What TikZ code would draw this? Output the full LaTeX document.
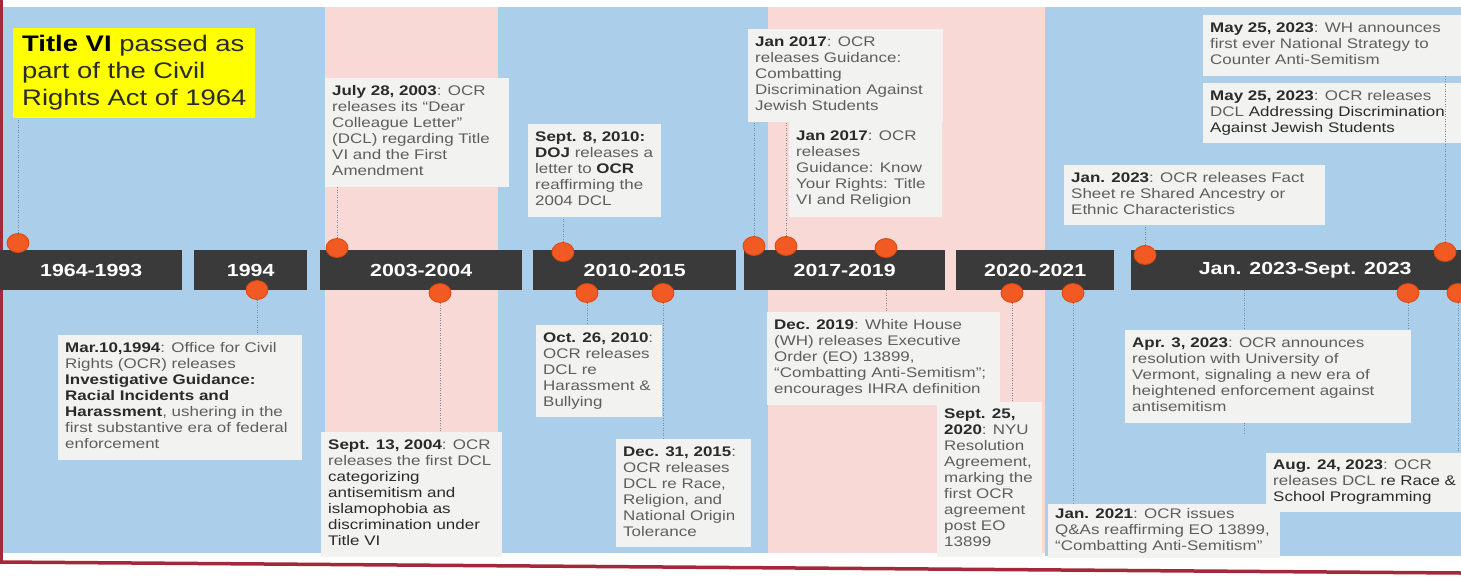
\documentclass[tikz,border=0pt]{standalone}
\usepackage{fontspec}
\setmainfont{Liberation Sans}[FakeStretch=1.22]
\usetikzlibrary{shapes.geometric}

\definecolor{panelblue}{HTML}{ABCFEA}
\definecolor{panelpink}{HTML}{F9D9D6}
\definecolor{boxfill}{HTML}{F2F2F1}
\definecolor{barcol}{HTML}{3A3A3A}
\definecolor{pinorange}{HTML}{F15A22}
\definecolor{pinedge}{HTML}{D9480F}
\definecolor{txtgray}{HTML}{5E5E5E}
\definecolor{txtdark}{HTML}{2A2A2A}
\definecolor{framered}{HTML}{A3283A}
\definecolor{linkgray}{HTML}{7D8792}
\definecolor{titleyellow}{HTML}{FFFF00}

\pgfdeclarelayer{panels}
\pgfdeclarelayer{links}
\pgfsetlayers{panels,links,main}

\newcommand\evfont{\fontsize{13.9pt}{16pt}\selectfont}
\newcommand\evdate[1]{\textbf{\color{txtdark}#1}}
\newcommand\evb[1]{\textbf{\color{txtdark}#1}}
\newcommand\evdk[1]{{\color{txtdark}#1}}
\newcommand\evlines[2]{\makebox[#1][l]{\begin{tabular}{@{}l@{}}#2\end{tabular}}}

\tikzset{
  evt/.style={fill=boxfill, anchor=north west, inner xsep=7pt, inner ysep=0pt,
              text=txtgray, font=\evfont},
  era/.style={fill=barcol, anchor=north west, minimum height=40pt, inner sep=0pt,
              text=white, font=\fontsize{17.5pt}{20pt}\selectfont\bfseries},
  tlpin/.style={ellipse, fill=pinorange, draw=pinedge, line width=0.8pt,
                minimum width=22pt, minimum height=19pt, inner sep=0pt},
  link/.style={draw=linkgray, line width=1pt, dash pattern=on 1pt off 1.5pt}
}

\begin{document}
\begin{tikzpicture}[x=1pt,y=-1pt]
\useasboundingbox (0,0) rectangle (1461,579);

% background bands
\begin{pgfonlayer}{panels}
  \fill[white] (0,0) rectangle (1461,579);
  \fill[panelblue] (3,7) rectangle (325,553);
  \fill[panelpink] (325,7) rectangle (498,553);
  \fill[panelblue] (498,7) rectangle (768,553);
  \fill[panelpink] (768,7) rectangle (1045,553);
  \fill[panelblue] (1045,7) rectangle (1461,556);
  \draw[framered, line width=3.5pt] (1.5,0) -- (1.5,563);
  \draw[framered, line width=3.5pt] (0,562) -- (1461,573);
\end{pgfonlayer}

% title
\node[fill=titleyellow, anchor=north west, inner xsep=9pt, inner ysep=0pt,
      minimum height=90pt, text=txtdark,
      font=\fontsize{22.5pt}{27pt}\selectfont] (ttl) at (13,28)
  {\evlines{224pt}{\textbf{\color{black}Title VI} passed as\\part of the Civil\\Rights Act of 1964}};

% events above the bar
\node[evt, minimum height=109pt] (jul03) at (325,78)
  {\evlines{170pt}{\evdate{July 28, 2003}: OCR\\releases its “Dear\\Colleague Letter”\\(DCL) regarding Title\\VI and the First\\Amendment}};
\node[evt, minimum height=93pt] (sep10) at (528,124)
  {\evlines{119pt}{\evdate{Sept. 8, 2010:}\\\evb{DOJ} releases a\\letter to \evb{OCR}\\reaffirming the\\2004 DCL}};
\node[evt, minimum height=93pt] (jan17a) at (748,29)
  {\evlines{181pt}{\evdate{Jan 2017}: OCR\\releases Guidance:\\Combatting\\Discrimination Against\\Jewish Students}};
\node[evt, minimum height=95pt] (jan17b) at (789,122)
  {\evlines{139pt}{\evdate{Jan 2017}: OCR\\releases\\Guidance: Know\\Your Rights: Title\\VI and Religion}};
\node[evt, minimum height=60pt] (jan23) at (1064,165)
  {\evlines{247pt}{\evdate{Jan. 2023}: OCR releases Fact\\Sheet re Shared Ancestry or\\Ethnic Characteristics}};
\node[evt, minimum height=61pt] (may23a) at (1203,15)
  {\evlines{256pt}{\evdate{May 25, 2023}: WH announces\\first ever National Strategy to\\Counter Anti-Semitism}};
\node[evt, minimum height=60pt] (may23b) at (1203,83)
  {\evlines{256pt}{\evdate{May 25, 2023}: OCR releases\\DCL \evdk{Addressing Discrimination}\\\evdk{Against Jewish Students}}};

% events below the bar
\node[evt, minimum height=125pt] (mar94) at (58,335)
  {\evlines{230pt}{\evdate{Mar.10,1994}: Office for Civil\\Rights (OCR) releases\\\evb{Investigative Guidance:}\\\evb{Racial Incidents and}\\\evb{Harassment}, ushering in the\\first substantive era of federal\\enforcement}};
\node[evt, minimum height=125pt] (sep04) at (321,432)
  {\evlines{167pt}{\evdate{Sept. 13, 2004}: OCR\\releases the first DCL\\\evdk{categorizing}\\\evdk{antisemitism and}\\\evdk{islamophobia as}\\\evdk{discrimination under}\\\evdk{Title VI}}};
\node[evt, minimum height=92pt] (oct10) at (536,325)
  {\evlines{112pt}{\evdate{Oct. 26, 2010}:\\OCR releases\\DCL re\\Harassment \&\\Bullying}};
\node[evt, minimum height=108pt] (dec15) at (616,439)
  {\evlines{121pt}{\evdate{Dec. 31, 2015}:\\OCR releases\\DCL re Race,\\Religion, and\\National Origin\\Tolerance}};
\node[evt, minimum height=93pt] (dec19) at (767,312)
  {\evlines{219pt}{\evdate{Dec. 2019}: White House\\(WH) releases Executive\\Order (EO) 13899,\\“Combatting Anti-Semitism”;\\encourages IHRA definition}};
\node[evt, minimum height=155pt] (sep20) at (937,402)
  {\evlines{91pt}{\evdate{Sept. 25,}\\\evdate{2020}: NYU\\Resolution\\Agreement,\\marking the\\first OCR\\agreement\\post EO\\13899}};
\node[evt, minimum height=54pt] (jan21) at (1048,504)
  {\evlines{218pt}{\evdate{Jan. 2021}: OCR issues\\Q\&As reaffirming EO 13899,\\“Combatting Anti-Semitism”}};
\node[evt, minimum height=93pt] (apr23) at (1125,330)
  {\evlines{272pt}{\evdate{Apr. 3, 2023}: OCR announces\\resolution with University of\\Vermont, signaling a new era of\\heightened enforcement against\\antisemitism}};
\node[evt, minimum height=59pt] (aug23) at (1266,453)
  {\evlines{186pt}{\evdate{Aug. 24, 2023}: OCR\\releases DCL \evdk{re Race \&}\\\evdk{School Programming}}};

% era bars
\node[era, minimum width=182pt] (b1) at (0,250) {1964-1993};
\node[era, minimum width=113pt] (b2) at (194,250) {1994};
\node[era, minimum width=202pt] (b3) at (320,250) {2003-2004};
\node[era, minimum width=203pt] (b4) at (533,250) {2010-2015};
\node[era, minimum width=201pt] (b5) at (744,250) {2017-2019};
\node[era, minimum width=158pt] (b6) at (956,250) {2020-2021};
\node[era, minimum width=348pt] (b7) at (1131,250) {Jan. 2023-Sept. 2023};

% event markers
\node[tlpin] (p1964) at (18,243) {};
\node[tlpin] (p1994) at (257,290) {};
\node[tlpin] (p2003) at (337,248) {};
\node[tlpin] (p2004) at (440,293) {};
\node[tlpin] (p2010a) at (563,252) {};
\node[tlpin] (p2010b) at (587,293) {};
\node[tlpin] (p2015) at (663,293) {};
\node[tlpin] (p2017a) at (754,246) {};
\node[tlpin] (p2017b) at (786,246) {};
\node[tlpin] (p2019) at (886,248) {};
\node[tlpin] (p2020) at (1012,293) {};
\node[tlpin] (p2021) at (1073,293) {};
\node[tlpin] (p2023a) at (1145,255) {};
\node[tlpin] (p2023b) at (1445,252) {};
\node[tlpin] (p2023c) at (1408,293) {};
\node[tlpin] (p2023d) at (1458,293) {};

% this one runs across the second May 2023 box
\draw[link] (p2023b.north) -- (p2023b.north |- may23a.south);

% dotted leaders from markers to their events
\begin{pgfonlayer}{links}
  \draw[link] (p1964.north) -- (p1964.north |- ttl.south);
  \draw[link] (p1994.south) -- (p1994.south |- mar94.north);
  \draw[link] (p2003.north) -- (p2003.north |- jul03.south);
  \draw[link] (p2004.south) -- (p2004.south |- sep04.north);
  \draw[link] (p2010a.north) -- (p2010a.north |- sep10.south);
  \draw[link] (p2010b.south) -- (p2010b.south |- oct10.north);
  \draw[link] (p2015.south) -- (p2015.south |- dec15.north);
  \draw[link] (p2017a.north) -- (p2017a.north |- jan17a.south);
  \draw[link] (p2017b.north) -- (p2017b.north |- jan17a.south);
  \draw[link] (p2019.south) -- (p2019.south |- dec19.north);
  \draw[link] (p2020.south) -- (p2020.south |- sep20.north);
  \draw[link] (p2021.south) -- (p2021.south |- jan21.north);
  \draw[link] (p2023a.north) -- (p2023a.north |- jan23.south);
  \draw[link] (p2023c.south) -- (p2023c.south |- apr23.north);
  \draw[link] (p2023d.south) -- (p2023d.south |- aug23.north);
  \coordinate (aprtail) at (1244,435);
  \draw[link] (b7.south -| aprtail) -- (aprtail);
\end{pgfonlayer}
\end{tikzpicture}
\end{document}
